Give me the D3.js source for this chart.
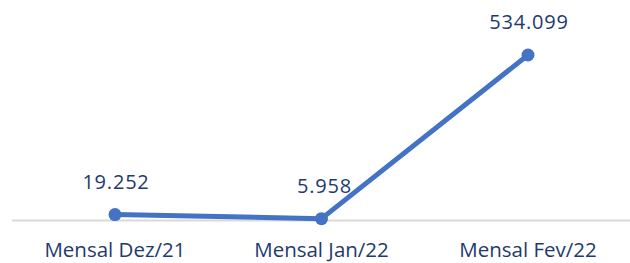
<!DOCTYPE html>
<html><head><meta charset="utf-8">
<script src="https://cdn.jsdelivr.net/npm/d3@7"></script>
<style>html,body{margin:0;padding:0;background:#fff;}svg{display:block;}</style>
</head><body>
<script>
const categories = ["Mensal Dez/21", "Mensal Jan/22", "Mensal Fev/22"];
const values = [19252, 5958, 534099];
const valueLabels = ["19.252", "5.958", "534.099"];

const W = 630, H = 263;
const svg = d3.select("body").append("svg").attr("width", W).attr("height", H);

const x = d3.scalePoint().domain(categories).range([115, 528]);
const y = d3.scaleLinear().domain([0, 534099]).range([220.5, 55]);

// baseline
svg.append("line").attr("x1", 12).attr("x2", 630)
  .attr("y1", y(0)).attr("y2", y(0))
  .attr("stroke", "#d9d9d9").attr("stroke-width", 2);

const line = d3.line().x((d, i) => x(categories[i])).y(d => y(d));
svg.append("path").datum(values).attr("d", line)
  .attr("fill", "none").attr("stroke", "#4472c4").attr("stroke-width", 5)
  .attr("stroke-linejoin", "round");

svg.selectAll("circle.pt").data(values).join("circle").attr("class", "pt")
  .attr("cx", (d, i) => x(categories[i])).attr("cy", d => y(d)).attr("r", 6.5)
  .attr("fill", "#4472c4");

svg.selectAll("text.val").data(values).join("text").attr("class", "val")
  .attr("x", (d, i) => x(categories[i]) + (i === 1 ? 3 : 1)).attr("y", d => y(d) - 26)
  .attr("text-anchor", "middle")
  .attr("font-family", "Open Sans").attr("font-size", 20).attr("letter-spacing", 0.8)
  .attr("fill", "#1f3a6e")
  .text((d, i) => valueLabels[i]);

svg.selectAll("text.cat").data(categories).join("text").attr("class", "cat")
  .attr("x", d => x(d)).attr("y", 257)
  .attr("text-anchor", "middle")
  .attr("font-family", "Open Sans").attr("font-size", 20.5)
  .attr("fill", "#1f3a6e")
  .text(d => d);
</script>
</body></html>
